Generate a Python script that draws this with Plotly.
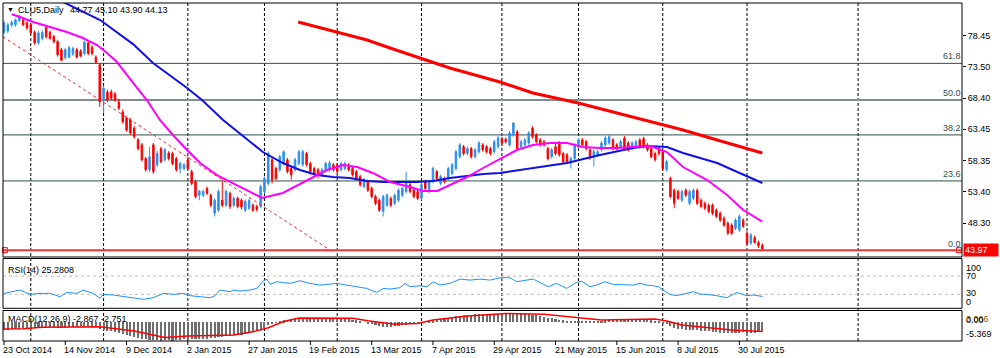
import plotly.graph_objects as go

# ---------------- data ----------------
bar_idx = list(range(199))
opens = [79.0, 79.2, 80.2, 80.2, 80.9, 81.0, 80.5, 80.2, 79.0, 77.3,
         78.0, 79.8, 79.0, 78.3, 77.5, 76.2, 74.9, 75.0, 75.5, 76.2,
         76.0, 75.6, 77.3, 76.6, 75.0, 73.8, 68.1, 69.4, 69.4, 69.1,
         67.8, 66.2, 65.2, 64.9, 63.6, 61.7, 60.9, 58.7, 56.9, 60.9,
         57.7, 60.3, 58.5, 59.6, 59.5, 58.7, 57.1, 57.1, 58.5, 56.6,
         55.0, 52.8, 52.8, 53.9, 52.8, 49.9, 50.4, 52.0, 51.2, 53.1,
         51.2, 52.3, 52.0, 50.4, 50.7, 51.2, 51.0, 51.0, 53.4, 54.7,
         58.5, 57.1, 56.9, 57.9, 58.5, 57.1, 56.9, 57.9, 57.7, 59.5,
         57.9, 57.1, 56.9, 56.1, 56.9, 56.9, 57.7, 57.7, 56.9, 57.1,
         57.7, 57.1, 56.6, 55.8, 54.2, 55.0, 53.9, 52.6, 52.0, 50.2,
         51.2, 52.3, 51.5, 52.0, 52.8, 53.4, 54.5, 53.6, 53.4, 52.3,
         55.0, 53.4, 55.0, 56.6, 54.7, 55.5, 55.5, 56.3, 57.1, 59.0,
         60.6, 59.5, 60.3, 59.0, 59.8, 60.9, 60.6, 60.3, 59.8, 60.6,
         61.9, 61.8, 60.9, 62.5, 63.0, 60.6, 60.9, 61.2, 63.6, 62.5,
         61.7, 61.4, 60.3, 59.0, 60.6, 61.2, 59.5, 59.3, 58.2, 58.7,
         60.6, 61.7, 61.4, 60.1, 59.0, 59.3, 60.1, 60.9, 61.2, 61.7,
         60.9, 60.6, 62.0, 61.2, 60.3, 60.6, 61.7, 61.9, 60.9, 60.3,
         59.5, 60.3, 59.8, 56.9, 55.5, 53.6, 53.4, 52.0, 53.6, 51.5,
         52.3, 53.6, 52.0, 51.5, 51.2, 51.2, 50.4, 49.9, 49.1, 48.3,
         48.0, 47.5, 47.2, 48.8, 46.7, 45.1, 46.0, 45.2, 44.77]
highs = [80.9, 80.5, 80.9, 81.2, 81.8, 81.3, 80.8, 80.4, 79.3, 79.2,
         79.3, 80.2, 79.3, 78.6, 77.8, 76.5, 76.5, 76.8, 76.7, 76.5,
         76.3, 77.7, 77.6, 76.9, 75.3, 74.0, 70.4, 69.8, 69.8, 69.4,
         68.3, 66.6, 65.5, 65.2, 63.9, 62.0, 61.2, 59.0, 60.6, 61.2,
         59.9, 60.6, 60.4, 59.9, 59.8, 59.0, 58.2, 58.0, 59.0, 56.9,
         55.3, 53.6, 53.7, 54.2, 53.1, 52.3, 53.7, 55.2, 53.7, 53.4,
         52.6, 52.6, 52.3, 52.1, 52.3, 51.5, 51.3, 54.5, 55.8, 59.8,
         58.8, 57.4, 59.3, 60.0, 58.8, 57.4, 58.8, 60.1, 60.1, 59.8,
         58.2, 57.4, 57.2, 57.2, 58.2, 58.3, 58.0, 58.0, 58.2, 58.2,
         58.0, 57.4, 56.9, 56.1, 55.6, 55.3, 54.2, 52.9, 52.3, 52.9,
         53.1, 52.6, 53.1, 53.9, 54.2, 56.6, 54.8, 53.9, 53.7, 54.8,
         55.3, 55.3, 57.4, 56.9, 56.1, 55.8, 57.4, 58.0, 60.1, 61.2,
         60.9, 60.6, 60.6, 60.4, 61.5, 61.2, 60.9, 60.6, 61.7, 62.3,
         62.2, 62.1, 63.1, 64.6, 63.3, 61.7, 62.0, 63.1, 63.9, 62.8,
         62.0, 61.7, 60.6, 60.4, 61.1, 61.5, 59.8, 59.6, 59.0, 61.2,
         62.0, 62.0, 61.7, 60.4, 60.1, 60.1, 61.5, 62.3, 62.5, 62.0,
         61.2, 61.7, 62.3, 61.5, 61.5, 61.7, 62.0, 62.2, 61.2, 60.6,
         59.8, 60.6, 60.1, 58.5, 55.8, 53.9, 53.7, 53.7, 53.9, 53.7,
         53.9, 53.9, 52.3, 51.8, 51.5, 51.5, 50.7, 50.2, 49.4, 48.6,
         48.3, 49.1, 49.7, 49.1, 47.0, 46.7, 46.3, 45.5, 45.10]
lows = [78.7, 78.9, 79.8, 79.9, 80.6, 80.0, 79.4, 78.7, 77.0, 77.0,
        77.7, 78.0, 77.8, 77.2, 75.1, 74.3, 74.6, 74.8, 75.2, 74.8,
        75.0, 75.3, 75.3, 75.3, 73.9, 67.0, 66.0, 67.8, 68.1, 67.8,
        66.5, 64.3, 63.0, 62.5, 61.9, 60.0, 58.2, 56.6, 56.5, 56.2,
        57.3, 57.9, 58.2, 58.4, 57.6, 56.6, 56.3, 56.8, 56.9, 54.4,
        52.3, 52.0, 52.5, 52.8, 50.9, 49.4, 50.1, 50.9, 50.9, 50.6,
        50.9, 50.7, 50.5, 50.1, 50.4, 50.1, 50.2, 50.7, 53.1, 54.4,
        54.7, 55.2, 56.6, 57.6, 56.3, 55.3, 56.6, 57.6, 57.4, 57.4,
        56.1, 56.0, 55.5, 55.8, 56.6, 56.6, 56.6, 56.3, 56.6, 56.8,
        56.6, 55.8, 55.2, 54.2, 53.9, 53.3, 52.3, 51.2, 50.1, 49.4,
        50.9, 50.9, 51.2, 51.7, 52.5, 53.1, 53.1, 52.3, 52.0, 52.0,
        53.6, 53.1, 54.7, 55.2, 54.4, 54.7, 55.2, 56.0, 56.8, 58.7,
        59.2, 59.2, 58.7, 58.7, 59.5, 59.8, 59.5, 59.2, 59.5, 60.3,
        60.9, 61.1, 60.6, 62.2, 60.0, 60.3, 60.6, 60.9, 61.9, 61.1,
        60.6, 60.6, 58.4, 58.7, 59.2, 59.0, 57.9, 57.9, 57.1, 58.4,
        60.3, 60.6, 60.0, 58.5, 57.4, 59.0, 59.8, 60.6, 60.9, 60.0,
        60.0, 60.3, 60.0, 59.8, 60.0, 60.3, 60.3, 60.3, 59.8, 58.7,
        58.2, 59.2, 56.8, 56.6, 52.3, 50.7, 52.0, 51.7, 52.5, 51.2,
        52.0, 51.2, 50.7, 50.4, 49.9, 49.6, 49.1, 48.5, 47.7, 46.4,
        46.4, 47.2, 46.9, 47.5, 44.8, 44.8, 45.0, 44.3, 43.90]
closes = [80.5, 80.2, 80.6, 81.0, 81.4, 80.2, 79.7, 78.9, 77.3, 78.9,
          79.0, 78.3, 78.0, 77.5, 75.4, 74.5, 76.2, 76.5, 76.4, 75.0,
          75.2, 77.4, 75.6, 75.6, 74.2, 67.8, 70.0, 68.1, 68.4, 68.1,
          66.8, 64.6, 63.3, 62.8, 62.2, 60.3, 58.5, 56.9, 59.0, 56.6,
          59.5, 58.2, 60.1, 58.7, 57.9, 56.9, 57.9, 57.7, 57.1, 54.7,
          52.6, 53.5, 53.4, 53.1, 51.2, 52.0, 53.4, 51.2, 53.4, 51.0,
          52.3, 51.0, 50.9, 51.8, 52.0, 50.4, 50.5, 54.2, 55.5, 59.5,
          55.3, 55.5, 59.0, 59.8, 56.6, 56.1, 58.5, 59.8, 59.8, 57.7,
          56.6, 56.3, 56.1, 56.9, 57.9, 58.0, 56.9, 56.6, 57.9, 57.9,
          56.9, 56.1, 55.5, 54.5, 55.3, 53.6, 52.6, 51.5, 50.4, 52.6,
          52.8, 51.2, 52.8, 53.6, 53.9, 55.0, 53.4, 52.6, 52.3, 54.5,
          53.9, 55.0, 57.1, 55.5, 55.8, 55.0, 57.1, 57.7, 59.8, 60.9,
          59.5, 60.3, 59.0, 60.1, 61.2, 60.1, 59.8, 59.5, 61.4, 62.0,
          61.2, 61.4, 62.8, 64.4, 60.3, 61.4, 61.7, 62.8, 62.2, 61.4,
          60.9, 60.9, 58.7, 60.1, 59.5, 59.3, 58.2, 58.2, 58.7, 60.9,
          61.7, 60.9, 60.3, 59.0, 59.8, 59.8, 61.2, 62.0, 62.2, 60.3,
          60.3, 61.4, 60.3, 60.1, 61.2, 61.4, 60.6, 60.6, 60.1, 59.0,
          58.5, 59.5, 57.1, 58.2, 52.6, 51.5, 52.3, 53.4, 52.8, 53.4,
          53.6, 51.5, 51.0, 50.7, 50.2, 49.9, 49.4, 48.8, 48.0, 46.7,
          46.7, 48.8, 49.4, 47.8, 45.1, 46.4, 45.2, 44.7, 44.13]

# moving averages
ma_fast_x = [2, 4.2, 7.6, 12, 16.4, 20.6, 24.3, 26.9, 29.5, 33.7, 37.3, 40.7, 44.1, 47.8, 51.2,
             55.6, 59.8, 64.2, 67.4, 72.8, 79.1, 84.3, 88.5, 92.2, 96.3, 100.8, 106, 109.4, 113.1,
             116.4, 120.9, 125.1, 129.5, 133.9, 138.1, 142.6, 147, 151.2, 155.6, 160.1, 164.2,
             168.7, 173.1, 177.3, 183.6, 188.8, 193, 198]
ma_fast_v = [81.9, 81.46, 80.65, 79.85, 79.05, 78.08, 76.96, 75.67, 74.22, 70.85, 68.11, 64.90,
             62.49, 60.07, 57.98, 56.05, 54.77, 53.32, 52.36, 53.16, 55.25, 56.86, 57.66, 57.34,
             56.38, 54.93, 54.13, 53.48, 53.48, 54.45, 55.73, 57.18, 58.63, 60.07, 60.88, 61.20,
             61.20, 60.56, 60.40, 60.40, 60.56, 60.72, 59.75, 57.34, 55.25, 52.84, 50.43, 48.55]
ma_mid_x = [14, 25.1, 33.7, 38.9, 47.8, 51.7, 57.2, 59.8, 64.2, 67.6, 72.8, 77.3, 81.7, 85.9, 90.3,
            94.8, 99, 107.8, 112, 116.4, 120.9, 125.1, 129.5, 138.1, 147, 155.6, 164.2, 167.9,
            173.1, 177.3, 181.7, 186.2, 190.3, 194.8, 198]
ma_mid_v = [84.3, 80.97, 77.1, 74.06, 70.04, 68.11, 64.90, 63.61, 61.36, 59.75, 57.98, 56.86,
            56.05, 55.73, 55.57, 55.09, 54.93, 54.93, 55.09, 55.57, 55.89, 56.22, 56.38, 57.18,
            57.98, 59.27, 60.40, 60.72, 60.56, 59.59, 58.79, 57.98, 56.86, 55.57, 54.77]
ma_slow_x = [76.8, 86.9, 94.8, 100.8, 108.9, 116.4, 129.5, 138.1, 149.9, 164.2, 177.3, 186.2, 194.8, 198]
ma_slow_v = [80.65, 79.05, 77.76, 76.47, 74.86, 73.26, 71.01, 69.24, 67.63, 65.38, 63.29, 61.68, 60.07, 59.59]

# objects
fib_names = ["61.8", "50.0", "38.2", "23.6", "0.0"]
fib_prices = [74.0, 68.1, 62.5, 55.1, 43.90]
trend_x = [-0.3, 85.9]
trend_y = [78.3, 43.67]
hline_price = 43.97
price_ticks = [78.45, 73.50, 68.40, 63.45, 58.35, 53.40, 48.30]

# RSI(14)
rsi_x = [0, 2.4, 4.2, 6.8, 9.4, 12, 14.6, 16.4, 19, 20.7, 23.3, 25.1, 25.9, 28.5, 31.2, 33.8, 36.4,
         39, 41.6, 44.2, 46.8, 48.6, 51.2, 53.8, 55.1, 56.4, 59, 59.9, 61.6, 64.2, 66, 67.7, 68.6,
         69.5, 71.2, 72.9, 74.7, 77.3, 79.9, 82.5, 85.1, 86.9, 89.5, 92.1, 94.7, 97.3, 99, 100.8,
         103.4, 104.7, 106, 108.6, 110.4, 112.1, 113.8, 116.4, 119.1, 121.7, 124.3, 126.9, 129.5,
         132.1, 133.9, 136.5, 138.2, 142.1, 144.3, 146.9, 149.5, 150.8, 153, 154.7, 156.9, 159.1,
         162.6, 164.3, 166.1, 167.8, 169.6, 170.8, 172.1, 173.9, 175.6, 177.8, 180, 181.7, 183.5,
         186.1, 188.7, 190.4, 191.3, 193.9, 195.6, 198]
rsi_v = [32.1, 35.8, 39.4, 29.9, 32.1, 32.1, 24.8, 34.3, 32.1, 39.4, 32.1, 21.2, 29.9, 28.5, 24.8,
         21.2, 19.0, 22.6, 32.1, 29.9, 32.1, 27.0, 24.8, 22.6, 27.0, 39.4, 35.8, 39.4, 37.2, 39.4,
         43.0, 59.1, 63.4, 51.8, 57.6, 56.1, 54.0, 59.8, 54.0, 50.3, 51.8, 54.0, 50.3, 46.7, 43.0,
         34.3, 43.0, 41.6, 44.5, 54.0, 46.7, 48.9, 46.7, 57.6, 50.3, 54.0, 63.4, 61.3, 63.4, 61.3,
         66.4, 66.4, 57.6, 61.3, 63.4, 46.7, 54.0, 43.0, 56.1, 59.1, 46.7, 50.3, 57.6, 51.8, 51.8,
         50.3, 54.0, 50.3, 48.9, 46.7, 39.4, 29.9, 27.0, 32.1, 35.8, 30.6, 29.9, 27.0, 22.6, 29.9,
         34.3, 27.0, 28.5, 25.28]
rsi_levels = [70, 30]

# MACD(12,26,9)
macd_hist = [-2.2, -2.1, -2.0, -1.9, -1.8, -1.7, -1.6, -1.5, -1.4, -1.4,
             -1.3, -1.3, -1.3, -1.4, -1.5, -1.6, -1.5, -1.4, -1.3, -1.3,
             -1.2, -1.2, -1.2, -1.3, -1.4, -1.9, -2.2, -2.4, -2.6, -2.7,
             -2.9, -3.2, -3.5, -3.8, -4.1, -4.4, -4.6, -4.7, -4.9, -5.0,
             -5.0, -5.1, -5.0, -5.0, -5.1, -5.0, -4.9, -4.8, -4.8, -4.8,
             -4.8, -4.7, -4.6, -4.6, -4.5, -4.3, -4.1, -4.0, -3.9, -3.8,
             -3.7, -3.6, -3.5, -3.3, -3.0, -2.7, -2.4, -2.0, -1.5, -0.9,
             -0.5, -0.2, 0.2, 0.5, 0.7, 0.8, 0.9, 1.0, 1.1, 1.1,
             1.0, 1.0, 0.9, 0.9, 0.9, 0.9, 0.9, 0.9, 0.9, 0.9,
             0.8, 0.7, 0.5, 0.3, 0.0, -0.3, -0.6, -0.9, -1.1, -1.3,
             -1.3, -1.3, -1.2, -1.1, -0.9, -0.7, -0.6, -0.5, -0.4, -0.2,
             0.0, 0.2, 0.5, 0.7, 0.9, 1.0, 1.2, 1.4, 1.6, 1.8,
             1.9, 2.0, 2.0, 2.1, 2.2, 2.2, 2.2, 2.3, 2.3, 2.3,
             2.4, 2.4, 2.4, 2.3, 2.3, 2.2, 2.2, 2.1, 2.0, 1.9,
             1.7, 1.4, 1.2, 1.0, 0.8, 0.7, 0.5, 0.4, 0.3, 0.3,
             0.4, 0.4, 0.3, 0.2, 0.2, 0.3, 0.4, 0.5, 0.6, 0.6,
             0.6, 0.6, 0.6, 0.7, 0.7, 0.7, 0.7, 0.7, 0.6, 0.5,
             0.3, 0.1, -0.3, -0.5, -1.1, -1.5, -1.8, -2.0, -2.1, -2.2,
             -2.2, -2.3, -2.4, -2.5, -2.6, -2.7, -2.8, -2.9, -3.0, -3.1,
             -3.1, -3.0, -2.9, -2.8, -2.9, -2.9, -2.9, -2.85, -2.867]
sig_x = [0, 5, 10, 25, 34, 42, 48, 60, 65, 69, 73, 77, 91, 95, 102, 108, 112, 121, 128, 131,
         141, 147, 150, 156, 170, 173, 177, 184, 190, 198]
sig_v = [-2.05, -1.95, -1.6, -1.45, -2.6, -4.4, -4.0, -3.7, -2.8, -1.7, 0.0, 1.0, 0.9, 0.2, -0.75,
         -0.5, 0.45, 1.55, 2.0, 2.25, 2.0, 1.36, 0.9, 0.45, 0.7, 0.17, -0.94, -1.67, -2.32, -2.751]
macd_scale = [-5.369, 3.066]

date_idx = [0, 16, 32, 48, 64, 80, 96, 112, 128, 144, 160, 176, 192]
date_labels = ["23 Oct 2014", "14 Nov 2014", "9 Dec 2014", "2 Jan 2015", "27 Jan 2015",
               "19 Feb 2015", "13 Mar 2015", "7 Apr 2015", "29 Apr 2015", "21 May 2015",
               "15 Jun 2015", "8 Jul 2015", "30 Jul 2015"]
month_grid_idx = [7, 26, 48, 68, 87, 109, 130, 150, 172, 194, 223]

# ---------------- layout helpers ----------------
W, H = 1000, 358
ML, MR, MT, MB = 3, 38, 3, 17
PW, PH = W - ML - MR, H - MT - MB
X0, STEP = 4.0, 3.83          # pixel of bar 0, pixel per bar


def px(x):
    return (x - ML) / PW


def py(y):
    return (H - MB - y) / PH


x_range = [(ML - X0) / STEP, (W - MR - X0) / STEP]
dom_main = [py(257), 1.0]
dom_rsi = [py(308.3), py(258.5)]
dom_macd = [0.0, py(310.5)]
FONT = "Liberation Sans"
BLUE_C = "#2E8FEF"
RED_C = "#FF0000"

fig = go.Figure()
fig.add_trace(go.Candlestick(
    x=bar_idx, open=opens, high=highs, low=lows, close=closes,
    increasing=dict(line=dict(color=BLUE_C, width=1), fillcolor=BLUE_C),
    decreasing=dict(line=dict(color=RED_C, width=1), fillcolor=RED_C),
    whiskerwidth=0, xaxis="x", yaxis="y", hoverinfo="skip"))
fig.add_trace(go.Scatter(x=ma_slow_x, y=ma_slow_v, mode="lines",
                         line=dict(color="#FF0000", width=3), xaxis="x", yaxis="y"))
fig.add_trace(go.Scatter(x=ma_mid_x, y=ma_mid_v, mode="lines",
                         line=dict(color="#1010E8", width=2), xaxis="x", yaxis="y"))
fig.add_trace(go.Scatter(x=ma_fast_x, y=ma_fast_v, mode="lines",
                         line=dict(color="#FF00FF", width=2), xaxis="x", yaxis="y"))
fig.add_trace(go.Scatter(x=trend_x, y=trend_y, mode="lines",
                         line=dict(color="#FF2020", width=1, dash="3px,3px"), xaxis="x", yaxis="y"))
fig.add_trace(go.Scatter(x=[x_range[0] + 0.5, x_range[1] - 0.8], y=[hline_price, hline_price],
                         mode="markers", marker=dict(symbol="square", size=5, color="white",
                                                     line=dict(color="#FF0000", width=1)),
                         xaxis="x", yaxis="y", cliponaxis=False))

# RSI
fig.add_trace(go.Scatter(x=rsi_x, y=rsi_v, mode="lines",
                         line=dict(color="#1E90FF", width=1), xaxis="x2", yaxis="y2"))
# MACD
fig.add_trace(go.Bar(x=bar_idx, y=macd_hist, width=0.55,
                     marker=dict(color="#6E6E6E", line=dict(width=0)), xaxis="x3", yaxis="y3"))
fig.add_trace(go.Scatter(x=sig_x, y=sig_v, mode="lines",
                         line=dict(color="#FF0000", width=1.5), xaxis="x3", yaxis="y3"))

shapes = []
# month grid lines
for gi in month_grid_idx:
    shapes.append(dict(type="line", xref="x", yref="paper", x0=gi, x1=gi, y0=0, y1=1,
                       line=dict(color="#000000", width=1, dash="3px,2px"), layer="below"))
# fibonacci levels
for name, p in zip(fib_names, fib_prices):
    thick = name == "50.0"
    shapes.append(dict(type="line", xref="paper", yref="y", x0=0, x1=1, y0=p, y1=p,
                       line=dict(color="#7E8E8E" if thick else "#2F4F4F", width=2 if thick else 1),
                       layer="below"))
# horizontal red line
shapes.append(dict(type="line", xref="paper", yref="y", x0=0, x1=1, y0=hline_price, y1=hline_price,
                   line=dict(color="#E83A3A", width=2)))
# RSI levels
for lv in rsi_levels:
    shapes.append(dict(type="line", xref="paper", yref="y2", x0=0, x1=1, y0=lv, y1=lv,
                       line=dict(color="#BDBDBD", width=1, dash="3px,3px"), layer="below"))
# panel borders
for d in (dom_main, dom_rsi, dom_macd):
    shapes.append(dict(type="rect", xref="paper", yref="paper", x0=0, x1=1, y0=d[0], y1=d[1],
                       line=dict(color="#000000", width=1)))
# date tick marks
for di in date_idx:
    shapes.append(dict(type="line", xref="x", yref="paper", x0=di, x1=di, y0=0, y1=py(345),
                       line=dict(color="#000000", width=1)))

ann = []


def txt(x, y, s, size=9, color="#000000", xanchor="left", xref="paper", yref="paper", **kw):
    ann.append(dict(x=x, y=y, xref=xref, yref=yref, text=s, showarrow=False, xanchor=xanchor,
                    yanchor=kw.pop("yanchor", "middle"),
                    font=dict(family=FONT, size=size, color=color), **kw))


txt(px(5), py(10), "▼", size=7)
txt(px(16), py(10), "CLU5,Daily")
txt(px(68), py(10), "44.77 45.10 43.90 44.13")
txt(px(6), py(269.5), "RSI(14) 25.2808")
txt(px(6), py(318.5), "MACD(12,26,9) -2.867 -2.751")

for name, p in zip(fib_names, fib_prices):
    txt(1.0, p, name, color="#2F4F4F", xanchor="right", yref="y", yanchor="bottom", xshift=1)

for lab, yy in (("100", 267.7), ("70", 275.7), ("30", 293), ("0", 301.7)):
    txt(px(964), py(yy), lab)
txt(px(964), py(318.5), "3.066", color="#8B5A00")
txt(px(964), py(319.5), "0.00")
txt(px(964), py(334.3), "-5.369")

for di, lab in zip(date_idx, date_labels):
    txt(di, py(350), lab, xref="x", xshift=-3)

# current price box
ann.append(dict(x=1.0, y=hline_price, xref="paper", yref="y", text="43.97", showarrow=False,
                xanchor="left", yanchor="middle", bgcolor="#FF0000", width=32, align="left",
                font=dict(family=FONT, size=9, color="#FFFFFF"), xshift=1, borderpad=1))

axis_common = dict(showgrid=False, zeroline=False, fixedrange=True)
fig.update_layout(
    width=W, height=H, margin=dict(l=ML, r=MR, t=MT, b=MB, pad=0),
    paper_bgcolor="white", plot_bgcolor="white", showlegend=False, boxgap=0.45,
    bargap=0, font=dict(family=FONT, size=9, color="#000000"),
    xaxis=dict(range=x_range, visible=False, rangeslider=dict(visible=False), anchor="y", **axis_common),
    xaxis2=dict(range=x_range, visible=False, matches="x", anchor="y2", **axis_common),
    xaxis3=dict(range=x_range, visible=False, matches="x", anchor="y3", **axis_common),
    yaxis=dict(domain=dom_main, range=[42.87, 83.71], side="right", anchor="x",
               tickvals=price_ticks, ticktext=["%.2f" % v for v in price_ticks],
               ticks="outside", ticklen=3, tickcolor="#000000",
               tickfont=dict(family=FONT, size=9, color="#000000"), **axis_common),
    yaxis2=dict(domain=dom_rsi, range=[-0.7, 108.7], visible=False, anchor="x2", **axis_common),
    yaxis3=dict(domain=dom_macd, range=macd_scale, visible=False, anchor="x3", **axis_common),
    shapes=shapes, annotations=ann,
)

fig.write_html("out.html", config={"displayModeBar": False},
               post_script="document.body.style.margin='0';document.body.style.padding='0';")
